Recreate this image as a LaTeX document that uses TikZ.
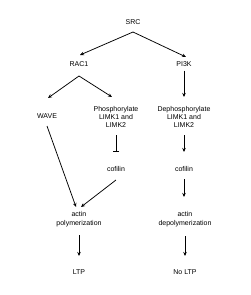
\documentclass[tikz,border=0pt]{standalone}
\usepackage{fontspec}
\setmainfont{Liberation Sans}
\usetikzlibrary{arrows.meta}
\begin{document}
\begin{tikzpicture}[x=1pt,y=-1pt,
  lab/.style={font=\fontsize{7}{8.4}\selectfont, align=center, inner sep=1pt},
  arr/.style={-{Stealth[length=4pt,width=3.5pt]}, line width=0.75pt},
  inh/.style={-{Bar[width=6pt]}, line width=0.75pt}]
\useasboundingbox (0,0) rectangle (250,295);
\node[lab] (src) at (133,22) {SRC};
\node[lab] (rac) at (79,64) {RAC1};
\node[lab] (pi3k) at (184,64) {PI3K};
\node[lab] (wave) at (47,116) {WAVE};
\node[lab] (phos) at (116,117) {Phosphorylate\\LIMK1 and\\LIMK2};
\node[lab] (dephos) at (184,117) {Dephosphorylate\\LIMK1 and\\LIMK2};
\node[lab] (cofl) at (116,169) {cofilin};
\node[lab] (cofr) at (184,169) {cofilin};
\node[lab] (poly) at (79,219) {actin\\polymerization};
\node[lab] (depoly) at (185,219) {actin\\depolymerization};
\node[lab] (ltp) at (79,272) {LTP};
\node[lab] (noltp) at (185,272) {No LTP};
\coordinate (srcb) at (133,32);
\coordinate (racb) at (79,76);
\draw[arr] (srcb) -- (80,55);
\draw[arr] (srcb) -- (186,57);
\draw[arr] (racb) -- (48,98);
\draw[arr] (racb) -- (112,97);
\draw[arr] (pi3k.south) ++(0,3) -- (184,97);
\draw[inh] (116,135) -- (116,152);
\draw[arr] (184,135) -- (184,152);
\draw[arr] (47,126) -- (76,207);
\draw[arr] (116,180) -- (81,207);
\draw[arr] (184,179) -- (184,197);
\draw[arr] (79,235) -- (79,256);
\draw[arr] (185,236) -- (185,256);
\end{tikzpicture}
\end{document}
